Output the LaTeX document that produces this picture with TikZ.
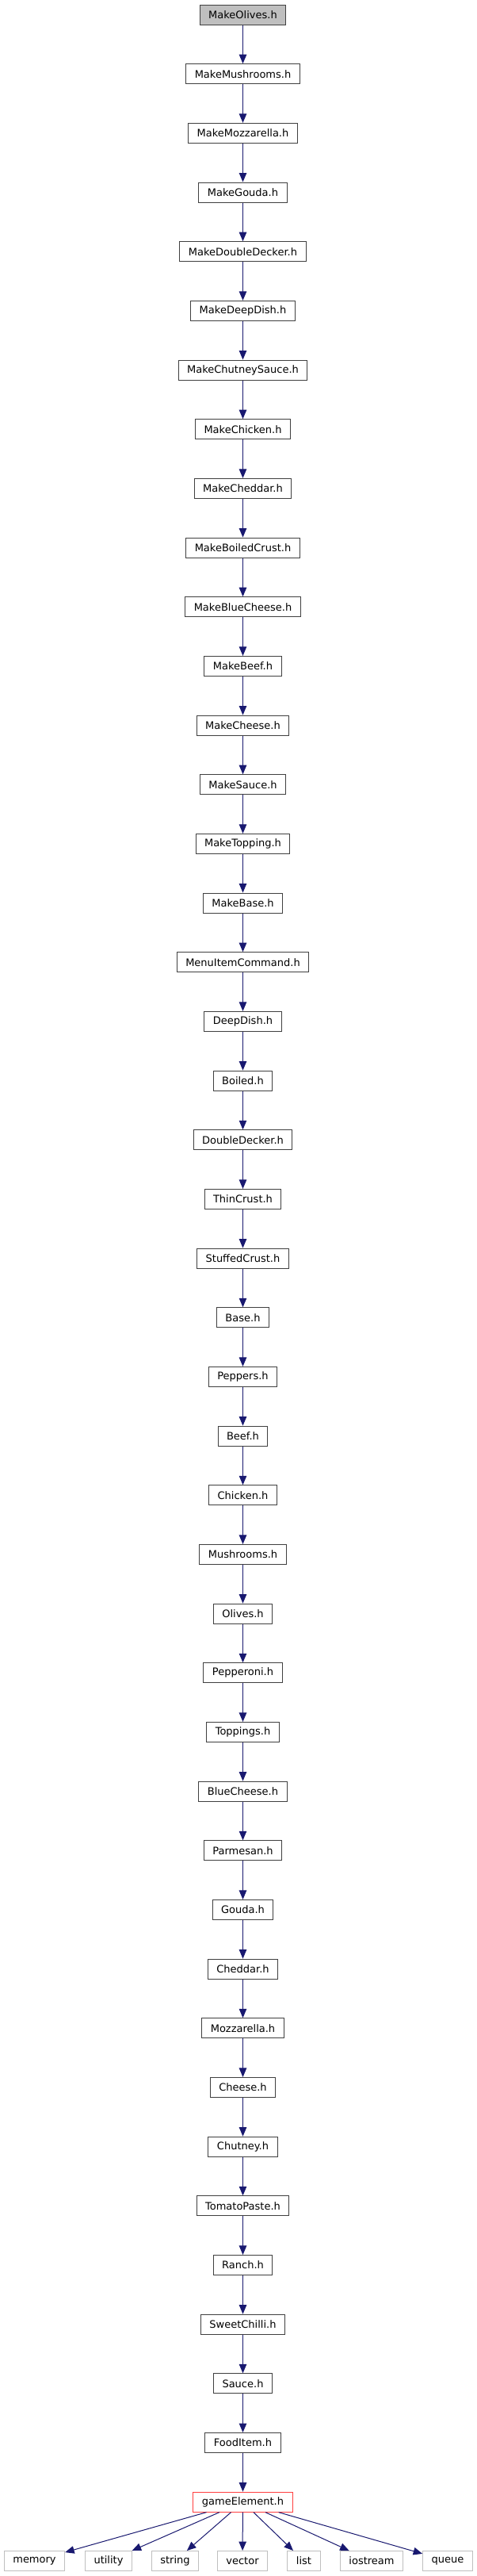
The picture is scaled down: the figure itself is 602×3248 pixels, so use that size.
\documentclass[tikz,border=0pt]{standalone}
\usepackage{fontspec}
\setmainfont{DejaVu Sans}
\usetikzlibrary{arrows.meta}
\definecolor{edgeblue}{RGB}{25,25,112}
\definecolor{boxline}{RGB}{64,64,64}
\definecolor{rootfill}{RGB}{191,191,191}
\definecolor{extline}{RGB}{191,191,191}
\definecolor{redline}{RGB}{255,64,64}
\begin{document}
\begin{tikzpicture}[x=1pt,y=1pt,
  filebox/.style={draw=boxline, line width=1pt, fill=white, inner xsep=11pt, inner ysep=0pt,
    minimum height=25pt, font=\fontsize{13}{15}\selectfont, text=black},
  rootbox/.style={filebox, fill=rootfill},
  redbox/.style={filebox, draw=redline},
  extbox/.style={filebox, draw=extline},
  dep/.style={draw=edgeblue, line width=1pt, -{Triangle[length=11.5pt,width=9.5pt]}}]
\useasboundingbox (0,0) rectangle (602,-3248);
\fill[white] (0,0) rectangle (602,-3248);
\foreach \name [count=\k from 0] in {MakeOlives.h,MakeMushrooms.h,MakeMozzarella.h,MakeGouda.h,MakeDoubleDecker.h,MakeDeepDish.h,MakeChutneySauce.h,MakeChicken.h,MakeCheddar.h,MakeBoiledCrust.h,MakeBlueCheese.h,MakeBeef.h,MakeCheese.h,MakeSauce.h,MakeTopping.h,MakeBase.h,MenuItemCommand.h,DeepDish.h,Boiled.h,DoubleDecker.h,ThinCrust.h,StuffedCrust.h,Base.h,Peppers.h,Beef.h,Chicken.h,Mushrooms.h,Olives.h,Pepperoni.h,Toppings.h,BlueCheese.h,Parmesan.h,Gouda.h,Cheddar.h,Mozzarella.h,Cheese.h,Chutney.h,TomatoPaste.h,Ranch.h,SweetChilli.h,Sauce.h,FoodItem.h,gameElement.h}{
  \ifnum\k=0
    \node[rootbox] (n\k) at (306.5,{-(18.5+\k*74.67)}) {\name};
  \else\ifnum\k=42
    \node[redbox] (n\k) at (306.5,{-(18.5+\k*74.67)}) {\name};
  \else
    \node[filebox] (n\k) at (306.5,{-(18.5+\k*74.67)}) {\name};
  \fi\fi
}
\foreach \k [evaluate=\k as \j using int(\k+1)] in {0,...,41}{
  \draw[dep] (n\k) -- (n\j);
}
\node[extbox] (memory) at (43.5,-3229) {memory};
\node[extbox] (utility) at (137,-3229) {utility};
\node[extbox] (string) at (221,-3229) {string};
\node[extbox] (vector) at (306,-3229) {vector};
\node[extbox] (list) at (383.5,-3229) {list};
\node[extbox] (iostream) at (469,-3229) {iostream};
\node[extbox] (queue) at (565,-3229) {queue};
\foreach \t in {memory,utility,string,vector,list,iostream,queue}{
  \draw[dep] (n42) -- (\t);
}
\end{tikzpicture}
\end{document}
